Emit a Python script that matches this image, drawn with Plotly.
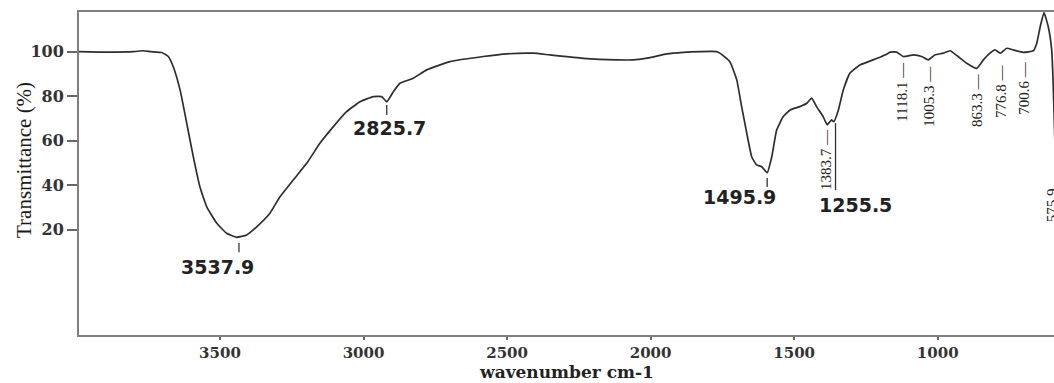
import plotly.graph_objects as go

# ---- spectrum data ----
wavenumber = [3991, 3900, 3800, 3768, 3740, 3703, 3680, 3663, 3639, 3616, 3593, 3570,
              3546, 3511, 3477, 3442, 3407, 3372, 3326, 3291, 3245, 3198, 3152, 3105,
              3059, 3012, 2966, 2937, 2919, 2896, 2873, 2827, 2780, 2699, 2583, 2501,
              2409, 2351, 2235, 2118, 2060, 2002, 1944, 1886, 1828, 1770, 1758, 1724,
              1700, 1683, 1665, 1648, 1631, 1613, 1594, 1578, 1561, 1538, 1514, 1480,
              1456, 1439, 1422, 1399, 1385, 1370, 1362, 1346, 1329, 1306, 1271, 1225,
              1201, 1178, 1166, 1143, 1120, 1085, 1056, 1033, 1010, 981, 957, 929,
              899, 864, 841, 818, 801, 781, 760, 737, 702, 667, 655, 643, 630, 615,
              603, 598, 592, 585]
transmittance = [100, 99.8, 100, 100.4, 100, 99.6, 97.8, 93.3, 82.8, 68, 52.8, 39.3,
                 30.3, 22.9, 18.4, 16.6, 17.6, 21.3, 27.4, 34.8, 42.3, 49.8, 58.8, 66.3,
                 73, 77.5, 79.8, 79.8, 77.5, 82, 85.8, 88, 91.8, 95.5, 97.8, 99,
                 99.3, 98.5, 97, 96.3, 96.3, 97.3, 99, 99.7, 100, 100, 99.2, 95.5,
                 87.3, 75.3, 63.3, 52.8, 49.1, 48.3, 45.6, 52.8, 64.8, 70.8, 73.8, 75.3,
                 76.8, 79.1, 75.3, 70.8, 67.1, 69.3, 68.5, 73.8, 82.8, 90.3, 94, 96.3,
                 97.5, 98.8, 99.8, 99.8, 97.8, 98.5, 97.8, 96.3, 98.5, 99.3, 100.4, 97.8,
                 94.8, 92.5, 96.3, 99.3, 100.8, 99.3, 101.5, 100.8, 99.7, 100.4, 103.8, 111.2, 117.5, 111.2,
                 100.8, 86, 60, 20]

x_tick_vals = [3500, 3000, 2500, 2000, 1500, 1000]
y_tick_vals = [20, 40, 60, 80, 100]

# horizontal peak labels: text, label centre, tick position
h_labels = ["3537.9", "2825.7", "1495.9", "1255.5"]
h_label_wn = [3507, 2908, 1692, 1288]
h_label_t = [3.2, 65.7, 34.7, 31.0]
h_tick_wn = [3434, 2919, 1594, 1356]
h_tick_top = [14.0, 76.0, 43.2, 67.9]
h_tick_bottom = [9.9, 71.5, 39.2, 37.8]

# vertical peak labels
v_labels = ["1383.7 \u2014", "1118.1 \u2014", "1005.3 \u2014", "863.3 \u2014",
            "776.8 \u2014", "700.6 \u2014", "575.9"]
v_label_wn = [1389, 1125, 1031, 863, 780, 700, 602]
v_label_t = [51.3, 81.9, 80.1, 78.3, 82.3, 83.7, 31.0]

# ---- figure ----
W, H = 1054, 383
L, R, T, B = 79, 0, 12, 48
plot_w = W - L - R
plot_h = H - T - B

fig = go.Figure()
fig.add_trace(go.Scatter(
    x=wavenumber, y=transmittance, mode="lines",
    line=dict(color="#2e2e2e", width=1.7, shape="spline", smoothing=0.4),
    showlegend=False, hoverinfo="x+y"))

label_color = "#222222"
for txt, xw, yt in zip(h_labels, h_label_wn, h_label_t):
    fig.add_annotation(x=xw, y=yt, xref="x", yref="y", text=f"<b>{txt}</b>", showarrow=False,
                       font=dict(family="DejaVu Sans", size=19, color=label_color),
                       xanchor="center", yanchor="middle")

for xw, y0, y1 in zip(h_tick_wn, h_tick_top, h_tick_bottom):
    fig.add_shape(type="line", x0=xw, x1=xw, y0=y0, y1=y1, xref="x", yref="y",
                  line=dict(color="#333333", width=1.3))

for txt, xw, yt in zip(v_labels, v_label_wn, v_label_t):
    fig.add_annotation(x=xw, y=yt, xref="x", yref="y", text=txt, showarrow=False,
                       textangle=-90,
                       font=dict(family="Liberation Serif", size=15, color=label_color),
                       xanchor="center", yanchor="middle")

# axis titles as paper annotations
fig.add_annotation(x=(24 - L) / plot_w, y=(H - B - 160) / plot_h, xref="paper", yref="paper",
                   text="Transmittance (%)", showarrow=False, textangle=-90,
                   font=dict(family="Liberation Serif", size=21, color="#1a1a1a"),
                   xanchor="center", yanchor="middle")
fig.add_annotation(x=0.5, y=-B / plot_h, xref="paper", yref="paper",
                   text="<b>wavenumber cm-1</b>", showarrow=False,
                   font=dict(family="DejaVu Serif", size=17, color="#222222"),
                   xanchor="center", yanchor="bottom", borderpad=0)

fig.update_xaxes(range=[3991, 595], tickvals=x_tick_vals,
                 ticktext=[f"<b>{v}</b>" for v in x_tick_vals],
                 ticks="outside", ticklen=3, tickwidth=1.5, tickcolor="#666666",
                 tickfont=dict(family="DejaVu Serif", size=15, color="#333333"),
                 showline=True, linecolor="#7f7f7f", linewidth=2, mirror=True,
                 showgrid=False, zeroline=False)
fig.update_yaxes(range=[-27.3, 117.8], tickvals=y_tick_vals,
                 ticktext=[f"<b>{v}</b>" for v in y_tick_vals],
                 ticks="outside", ticklen=10, tickwidth=1.5, tickcolor="#666666",
                 tickfont=dict(family="DejaVu Serif", size=16, color="#333333"),
                 showline=True, linecolor="#7f7f7f", linewidth=2, mirror=False,
                 showgrid=False, zeroline=False)

fig.update_layout(width=W, height=H, margin=dict(l=L, r=R, t=T, b=B),
                  plot_bgcolor="white", paper_bgcolor="white", showlegend=False)

fig.write_html("out.html")
